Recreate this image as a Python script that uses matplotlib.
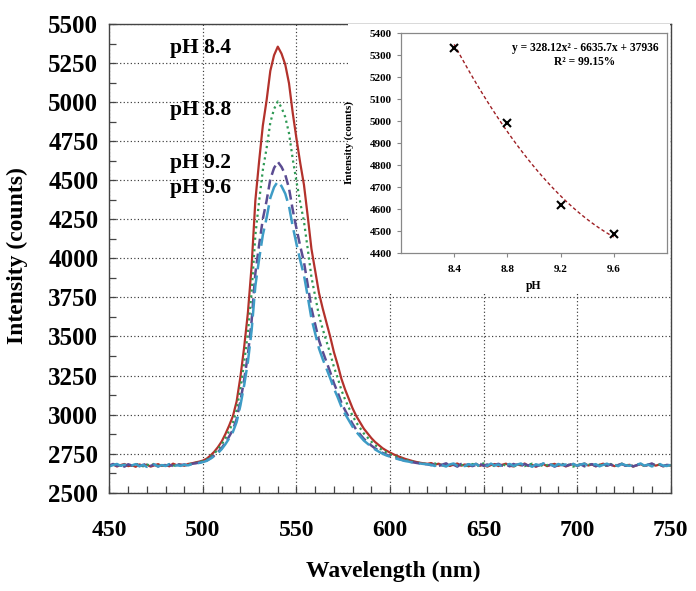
import numpy as np
import matplotlib
matplotlib.use("Agg")
import matplotlib.pyplot as plt
from matplotlib.ticker import MultipleLocator

plt.rcParams['font.family'] = ['Liberation Serif', 'DejaVu Serif']

# ---------------- data ----------------
wavelength = np.arange(450, 752, 2)

ph84 = [2672, 2680, 2668, 2677, 2684, 2670, 2676, 2666, 2681, 2673,
        2679, 2667, 2675, 2683, 2671, 2678, 2669, 2686, 2676, 2681,
        2672, 2684, 2688, 2694, 2699,
        2706, 2718, 2738, 2762, 2792, 2828, 2876, 2930, 2990, 3085,
        3240, 3430, 3650, 3950, 4370, 4620, 4850, 5010, 5200, 5300,
        5355, 5310, 5240, 5120, 4930, 4765, 4610, 4470, 4270, 4060,
        3920, 3780, 3680, 3590, 3500, 3400, 3320, 3230, 3160, 3100,
        3040, 2990, 2950, 2910, 2880, 2850, 2825, 2805, 2785, 2770,
        2757, 2745, 2735, 2726, 2717, 2710, 2703, 2697, 2692, 2688,
        2685,
        2690, 2679, 2686, 2674, 2683, 2671, 2680, 2687, 2673, 2681,
        2669, 2678, 2685, 2672, 2680, 2667, 2677, 2684, 2670, 2679,
        2686, 2673, 2668, 2681, 2675, 2687, 2671, 2679, 2666, 2676,
        2683, 2670, 2678, 2685, 2672, 2680, 2668, 2677, 2684, 2671,
        2679, 2687, 2674, 2681, 2669, 2678, 2686, 2673, 2680, 2670,
        2677, 2684, 2672, 2679, 2667, 2676, 2683, 2671, 2678, 2685,
        2673, 2680, 2669, 2677, 2674]

ph88 = [2678, 2670, 2683, 2674, 2668, 2681, 2672, 2685, 2676, 2669,
        2680, 2674, 2686, 2671, 2679, 2667, 2682, 2675, 2670, 2684,
        2677, 2681, 2686, 2691, 2697,
        2702, 2712, 2730, 2751, 2777, 2808, 2850, 2897, 2949, 3031,
        3166, 3331, 3522, 3783, 4148, 4365, 4565, 4704, 4869, 4956,
        5004, 4965, 4904, 4800, 4635, 4491, 4357, 4235, 4061, 3879,
        3757, 3635, 3548, 3470, 3392, 3305, 3236, 3157, 3096, 3044,
        2992, 2949, 2914, 2879, 2853, 2827, 2805, 2788, 2771, 2758,
        2746, 2736, 2727, 2719, 2711, 2705, 2699, 2694, 2690, 2686,
        2684,
        2681, 2688, 2674, 2683, 2670, 2679, 2686, 2673, 2680, 2667,
        2677, 2684, 2671, 2679, 2688, 2674, 2681, 2669, 2678, 2685,
        2672, 2680, 2667, 2676, 2683, 2670, 2679, 2686, 2673, 2681,
        2668, 2677, 2684, 2671, 2679, 2686, 2674, 2680, 2667, 2676,
        2683, 2670, 2678, 2685, 2672, 2680, 2668, 2677, 2684, 2671,
        2679, 2686, 2673, 2681, 2669, 2677, 2684, 2671, 2678, 2686,
        2673, 2680, 2668, 2676, 2675]

ph92 = [2675, 2684, 2671, 2679, 2667, 2682, 2674, 2687, 2670, 2678,
        2685, 2672, 2680, 2668, 2683, 2673, 2679, 2671, 2684, 2676,
        2681, 2673, 2685, 2688, 2693,
        2697, 2706, 2721, 2738, 2760, 2786, 2821, 2860, 2903, 2972,
        3085, 3222, 3382, 3599, 3904, 4085, 4252, 4368, 4506, 4578,
        4618, 4585, 4535, 4448, 4310, 4190, 4078, 3976, 3831, 3679,
        3578, 3476, 3404, 3338, 3273, 3201, 3143, 3077, 3027, 2983,
        2940, 2903, 2874, 2845, 2824, 2802, 2784, 2769, 2755, 2744,
        2734, 2726, 2719, 2712, 2705, 2700, 2695, 2691, 2687, 2684,
        2682,
        2676, 2685, 2671, 2680, 2688, 2673, 2679, 2667, 2684, 2675,
        2682, 2670, 2678, 2686, 2672, 2681, 2668, 2677, 2685, 2673,
        2680, 2669, 2684, 2676, 2671, 2683, 2674, 2687, 2670, 2678,
        2685, 2672, 2680, 2667, 2677, 2684, 2671, 2679, 2686, 2673,
        2681, 2669, 2676, 2683, 2670, 2679, 2686, 2674, 2681, 2668,
        2677, 2685, 2672, 2680, 2669, 2676, 2684, 2671, 2679, 2687,
        2674, 2681, 2670, 2678, 2676]

ph96 = [2669, 2677, 2684, 2672, 2680, 2666, 2675, 2683, 2670, 2678,
        2665, 2674, 2681, 2668, 2677, 2671, 2683, 2667, 2676, 2672,
        2679, 2675, 2682, 2686, 2691,
        2696, 2704, 2718, 2734, 2754, 2779, 2811, 2848, 2889, 2953,
        3058, 3187, 3336, 3539, 3824, 3994, 4150, 4258, 4387, 4455,
        4492, 4462, 4414, 4333, 4204, 4092, 3987, 3892, 3756, 3614,
        3519, 3424, 3356, 3295, 3234, 3167, 3112, 3051, 3004, 2963,
        2922, 2889, 2861, 2834, 2814, 2794, 2777, 2763, 2750, 2739,
        2731, 2722, 2716, 2710, 2703, 2699, 2694, 2690, 2687, 2684,
        2682,
        2678, 2671, 2684, 2675, 2668, 2681, 2687, 2673, 2679, 2670,
        2683, 2676, 2685, 2669, 2678, 2672, 2686, 2674, 2680, 2667,
        2677, 2684, 2671, 2680, 2687, 2673, 2678, 2666, 2682, 2675,
        2688, 2672, 2679, 2670, 2684, 2676, 2681, 2668, 2685, 2673,
        2680, 2687, 2671, 2677, 2683, 2669, 2678, 2686, 2674, 2681,
        2670, 2684, 2676, 2672, 2683, 2679, 2687, 2673, 2680, 2668,
        2677, 2685, 2674, 2671, 2678]

series_labels = ["pH 8.4", "pH 8.8", "pH 9.2", "pH 9.6"]

inset_ph = [8.4, 8.8, 9.2, 9.6]
inset_intensity = [5333, 4993, 4619, 4487]
fit_coef = [328.12, -6635.7, 37936]
fit_text = ["y = 328.12x² - 6635.7x + 37936", "R² = 99.15%"]

# ---------------- figure ----------------
fig = plt.figure(figsize=(6.96, 5.91), dpi=100)
ax = fig.add_axes([0.1573, 0.1663, 0.8061, 0.7931])

colors = ["#B3322C", "#2F9A55", "#5B4C92", "#3E9CC6"]
ax.plot(wavelength, ph84, color=colors[0], lw=1.6, ls='-')
ax.plot(wavelength, ph88, color=colors[1], lw=1.6, ls=(0, (1, 1.6)))
ax.plot(wavelength, ph92, color=colors[2], lw=1.8, ls=(0, (4, 2)))
ax.plot(wavelength, ph96, color=colors[3], lw=1.8, ls=(0, (7, 2.5)))

ax.set_xlim(450, 750)
ax.set_ylim(2500, 5500)
ax.xaxis.set_major_locator(MultipleLocator(50))
ax.xaxis.set_minor_locator(MultipleLocator(10))
ax.yaxis.set_major_locator(MultipleLocator(250))
ax.yaxis.set_minor_locator(MultipleLocator(125))
ax.grid(True, which='major', ls=(0, (1, 2)), color='#3a3a3a', lw=0.85)
ax.tick_params(which='both', direction='in', length=5, width=0.9, color='#444444')
ax.tick_params(axis='x', which='major', pad=20, labelsize=17)
ax.tick_params(axis='y', which='major', pad=8, labelsize=18)
for lab in ax.get_xticklabels() + ax.get_yticklabels():
    lab.set_fontweight('bold')
for sp in ax.spines.values():
    sp.set_color('#444444')
    sp.set_linewidth(1.0)

ax.set_xlabel("Wavelength (nm)", fontsize=17, fontweight='bold')
ax.set_ylabel("Intensity (counts)", fontsize=17, fontweight='bold')
ax.xaxis.set_label_coords(0.505, -0.146)
ax.yaxis.set_label_coords(-0.145, 0.505)

label_y = [5346, 4950, 4611, 4451]
for txt, yy in zip(series_labels, label_y):
    ax.text(482.4, yy, txt, fontsize=15.5, fontweight='bold', va='center', ha='left')

# ---------------- inset ----------------
bg = fig.add_axes([348 / 696, 1 - 293 / 591, (670 - 348) / 696, (293 - 24) / 591])
bg.set_facecolor('white')
bg.set_xticks([])
bg.set_yticks([])
for sp in bg.spines.values():
    sp.set_visible(False)

ins = fig.add_axes([401 / 696, 1 - 253 / 591, 266 / 696, 220 / 591])
ins.set_facecolor('white')
xx = np.linspace(inset_ph[0], inset_ph[-1], 100)
ins.plot(xx, np.polyval(fit_coef, xx), color='#9E1F24', lw=1.0, ls=(0, (2.5, 1.8)))
ins.plot(inset_ph, inset_intensity, ls='none', marker='x', color='black', ms=5.5, mew=1.5)
ins.set_xlim(8.0, 10.0)
ins.set_ylim(4400, 5400)
ins.set_xticks([8.4, 8.8, 9.2, 9.6])
ins.set_yticks(np.arange(4400, 5401, 100))
ins.tick_params(direction='out', length=3, width=0.8, color='#888888', labelsize=8)
ins.tick_params(axis='x', pad=6)
for lab in ins.get_xticklabels() + ins.get_yticklabels():
    lab.set_fontweight('bold')
for sp in ins.spines.values():
    sp.set_color('#888888')
    sp.set_linewidth(0.9)
ins.set_xlabel("pH", fontsize=8.5, fontweight='bold')
ins.set_ylabel("Intensity (counts)", fontsize=8, fontweight='bold')
ins.xaxis.set_label_coords(0.5, -0.125)
ins.yaxis.set_label_coords(-0.175, 0.5)
ins.text(0.692, 0.93, fit_text[0], transform=ins.transAxes, ha='center', va='center',
         fontsize=8.3, fontweight='bold')
ins.text(0.692, 0.868, fit_text[1], transform=ins.transAxes, ha='center', va='center',
         fontsize=8.3, fontweight='bold')

fig.savefig("out.png", dpi=100)
